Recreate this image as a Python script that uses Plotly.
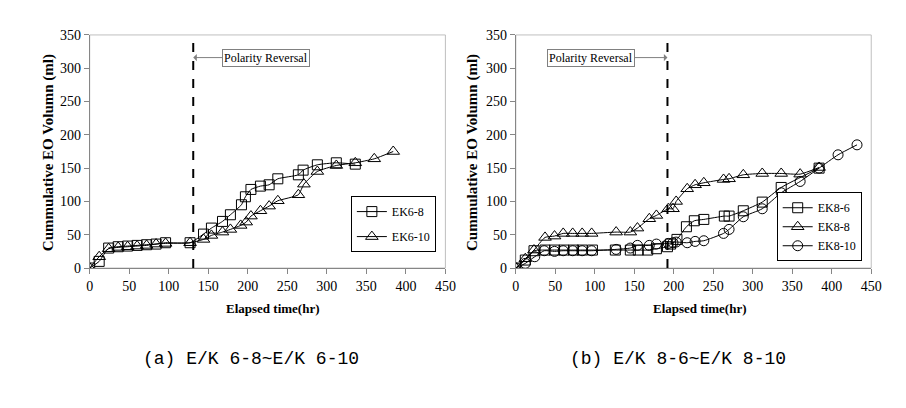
import plotly.graph_objects as go

# ---------------- data ----------------
# (a) E/K 6-8 ~ E/K 6-10
ek6_8_x = [0, 12, 24, 36, 48, 60, 72, 84, 96, 127, 144, 154, 168, 178, 192, 197, 204, 216, 227, 238, 264, 270, 288, 312, 336]
ek6_8_y = [0, 10, 30, 32, 33, 34, 35, 36, 38, 38, 51, 60, 70, 80, 95, 107, 118, 123, 125, 134, 140, 147, 155, 158, 156]
ek6_10_x = [0, 12, 24, 36, 48, 60, 72, 84, 96, 127, 144, 154, 168, 178, 191, 198, 204, 216, 227, 238, 264, 271, 288, 312, 336, 360, 384]
ek6_10_y = [0, 17, 29, 31, 32, 33, 34, 36, 37, 38, 43, 49, 54, 58, 64, 69, 78, 86, 93, 101, 110, 126, 145, 154, 158, 164, 175]

# (b) E/K 8-6 ~ E/K 8-10
ek8_6_x = [0, 12, 23, 37, 49, 61, 73, 84, 97, 126, 145, 155, 167, 178, 192, 196, 204, 216, 226, 238, 264, 270, 288, 312, 336, 384]
ek8_6_y = [0, 12, 26, 27, 27, 27, 27, 27, 27, 27, 27, 27, 27, 29, 32, 36, 43, 62, 71, 73, 78, 78, 86, 99, 121, 150]
ek8_8_x = [0, 12, 23, 37, 49, 60, 72, 84, 96, 127, 145, 154, 169, 178, 193, 199, 203, 217, 227, 238, 263, 270, 288, 312, 336, 360, 384]
ek8_8_y = [0, 14, 27, 46, 48, 52, 52, 52, 52, 54, 54, 60, 74, 79, 89, 89, 100, 119, 125, 128, 133, 134, 140, 142, 142, 141, 151]
ek8_10_x = [0, 12, 24, 36, 49, 60, 72, 84, 96, 127, 145, 154, 169, 178, 193, 199, 203, 217, 227, 238, 263, 270, 288, 312, 336, 360, 384, 408, 432]
ek8_10_y = [0, 7, 17, 26, 25, 26, 26, 26, 26, 28, 30, 34, 34, 36, 37, 38, 39, 38, 40, 41, 52, 58, 77, 89, 113, 130, 150, 170, 185]

reversal_a = 131
reversal_b = 192
x_ticks = [0, 50, 100, 150, 200, 250, 300, 350, 400, 450]
y_ticks = [0, 50, 100, 150, 200, 250, 300, 350]

# ---------------- layout helpers ----------------
W, H = 906, 408
def px(x):
    return x / W
def py(y):
    return 1 - y / H

SERIF = "Times New Roman, Liberation Serif, serif"
AXC = "#868686"

fig = go.Figure()

def add(x, y, name, sym, size, xa, ya, leg, grp):
    fig.add_trace(go.Scatter(
        x=x, y=y, name=name, mode="lines+markers", xaxis=xa, yaxis=ya,
        legend=leg, legendgroup=grp,
        marker=dict(symbol=sym, size=size, color="black", line=dict(width=1, color="black")),
        line=dict(color="black", width=1, shape="spline", smoothing=0.5),
    ))

add(ek6_8_x, ek6_8_y, "EK6-8", "square-open", 10, "x", "y", "legend", "a1")
add(ek6_10_x, ek6_10_y, "EK6-10", "triangle-up-open", 11, "x", "y", "legend", "a2")
add(ek8_6_x, ek8_6_y, "EK8-6", "square-open", 10, "x2", "y2", "legend2", "b1")
add(ek8_8_x, ek8_8_y, "EK8-8", "triangle-up-open", 11, "x2", "y2", "legend2", "b2")
add(ek8_10_x, ek8_10_y, "EK8-10", "circle-open", 10, "x2", "y2", "legend2", "b3")

def xaxis(dom, anchor):
    return dict(domain=dom, anchor=anchor, range=[0, 450], tickvals=x_ticks,
                ticks="outside", ticklen=5, tickcolor=AXC, showline=True, linecolor=AXC,
                linewidth=1, showgrid=False, zeroline=False,
                tickfont=dict(family=SERIF, size=14, color="black"))

def yaxis(anchor):
    return dict(domain=[py(262.7), py(20.7)], anchor=anchor, range=[0, 350], tickvals=y_ticks,
                ticks="outside", ticklen=5, tickcolor=AXC, showline=True, linecolor=AXC,
                linewidth=1, showgrid=False, zeroline=False,
                tickfont=dict(family=SERIF, size=14, color="black"))

legend_common = dict(xanchor="right", yanchor="top", bordercolor="black", borderwidth=1,
                     bgcolor="white", font=dict(family=SERIF, size=12, color="black"),
                     traceorder="grouped", itemwidth=30)

fig.update_layout(
    width=W, height=H, margin=dict(l=0, r=0, t=0, b=0),
    font=dict(family=SERIF, color="black"),
    paper_bgcolor="white", plot_bgcolor="white",
    xaxis=xaxis([px(79), px(440.7)], "y"),
    yaxis=yaxis("x"),
    xaxis2=xaxis([px(512.3), px(873.7)], "y2"),
    yaxis2=yaxis("x2"),
    legend=dict(x=px(431), y=py(188), tracegroupgap=6, **legend_common),
    legend2=dict(x=px(864), y=py(184), tracegroupgap=0, **legend_common),
    showlegend=True,
)

# plot-area frames and reversal lines
for xr, yr, rv in [("x", "y", reversal_a), ("x2", "y2", reversal_b)]:
    fig.add_shape(type="rect", xref=f"{xr} domain", yref=f"{yr} domain", x0=0, x1=1, y0=0, y1=1,
                  line=dict(color="#bfbfbf", width=1), layer="below")
    fig.add_shape(type="line", xref=xr, yref=f"{yr} domain", x0=rv, x1=rv, y0=0, y1=1,
                  line=dict(color="black", width=2, dash="dash"))

anns = []
# polarity reversal callouts
anns.append(dict(xref="x", yref="y", x=reversal_a, y=316, axref="x", ayref="y", ax=223, ay=316,
                 text="Polarity Reversal", showarrow=True, arrowhead=1, arrowsize=1.2, arrowwidth=1,
                 arrowcolor="#808080", bordercolor="#808080", borderwidth=1, borderpad=1,
                 bgcolor="white", font=dict(family=SERIF, size=12, color="black")))
anns.append(dict(xref="x2", yref="y2", x=reversal_b, y=316, axref="x2", ayref="y2", ax=95, ay=316,
                 text="Polarity Reversal", showarrow=True, arrowhead=1, arrowsize=1.2, arrowwidth=1,
                 arrowcolor="#808080", bordercolor="#808080", borderwidth=1, borderpad=1,
                 bgcolor="white", font=dict(family=SERIF, size=12, color="black")))
# axis titles
for xc in (265, 700):
    anns.append(dict(xref="paper", yref="paper", x=px(xc), y=py(305), text="Elapsed time(hr)",
                     showarrow=False, xanchor="center", yanchor="middle",
                     font=dict(family=SERIF, size=13, color="black", weight="bold")))
for xc in (37, 468):
    anns.append(dict(xref="paper", yref="paper", x=px(xc), y=py(143), text="Cummulative EO Volumn (ml)",
                     showarrow=False, textangle=-90, xanchor="center", yanchor="middle",
                     font=dict(family=SERIF, size=15, color="black", weight="bold")))
# captions
anns.append(dict(xref="paper", yref="paper", x=px(243), y=py(357), text="(a) E/K 6-8~E/K 6-10",
                 showarrow=False, xanchor="center", yanchor="middle",
                 font=dict(family="Liberation Mono", size=18, color="black")))
anns.append(dict(xref="paper", yref="paper", x=px(677), y=py(357), text="(b) E/K 8-6~E/K 8-10",
                 showarrow=False, xanchor="center", yanchor="middle",
                 font=dict(family="Liberation Mono", size=18, color="black")))
fig.update_layout(annotations=anns)

fig.write_html("out.html")
